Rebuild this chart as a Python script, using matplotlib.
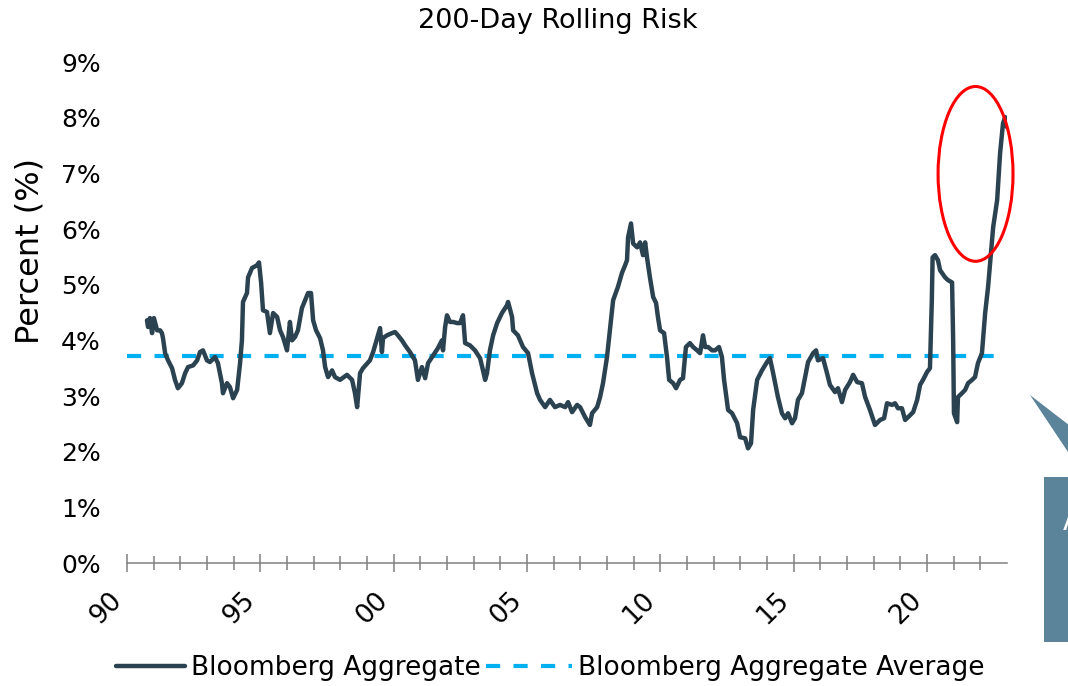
import matplotlib
matplotlib.use("Agg")
import matplotlib.pyplot as plt
from matplotlib.patches import Ellipse, Polygon, Rectangle
from matplotlib.ticker import FixedLocator

plt.rcParams["font.family"] = ["DejaVu Sans"]

# 200-day rolling risk of the Bloomberg Aggregate, percent (decimal years)
years = [
    1990.75, 1990.79, 1990.86, 1990.94, 1991.01, 1991.13, 1991.24, 1991.31, 1991.35, 1991.43,
    1991.54, 1991.69, 1991.80, 1991.91, 1992.06, 1992.18, 1992.29, 1992.48, 1992.63, 1992.74,
    1992.85, 1993.00, 1993.11, 1993.30, 1993.41, 1993.56, 1993.60, 1993.75, 1993.86, 1993.98,
    1994.13, 1994.24, 1994.31, 1994.35, 1994.50, 1994.54, 1994.69, 1994.88, 1994.95, 1995.03,
    1995.10, 1995.25, 1995.36, 1995.48, 1995.63, 1995.74, 1995.85, 1996.00, 1996.11, 1996.19,
    1996.30, 1996.41, 1996.56, 1996.68, 1996.79, 1996.90, 1996.98, 1997.09, 1997.24, 1997.35,
    1997.43, 1997.54, 1997.69, 1997.80,
    1997.99, 1998.25, 1998.44, 1998.55, 1998.63, 1998.74, 1998.85, 1999.11, 1999.23, 1999.38,
    1999.49, 1999.56, 1999.60, 1999.75, 1999.94, 2000.05, 2000.16, 2000.31, 2000.43, 2000.61,
    2000.80, 2000.91, 2001.06, 2001.18, 2001.29, 2001.48, 2001.66, 2001.81, 2001.85, 2001.93,
    2002.00, 2002.11, 2002.23, 2002.38, 2002.49, 2002.60, 2002.68, 2002.86, 2003.05, 2003.24,
    2003.35, 2003.43, 2003.50, 2003.61, 2003.73, 2003.88, 2004.06, 2004.25, 2004.29, 2004.44,
    2004.48, 2004.66, 2004.85, 2005.04, 2005.19, 2005.38,
    2005.49, 2005.68, 2005.86, 2006.05, 2006.24, 2006.43, 2006.54, 2006.69, 2006.88, 2006.99,
    2007.18, 2007.36, 2007.44, 2007.63, 2007.74, 2007.85, 2008.00, 2008.11, 2008.23, 2008.41,
    2008.56, 2008.68, 2008.75, 2008.79, 2008.90, 2008.98, 2009.13, 2009.24, 2009.35, 2009.43,
    2009.50, 2009.61, 2009.73, 2009.84, 2009.91, 2009.99, 2010.14, 2010.25, 2010.33, 2010.48,
    2010.59, 2010.74, 2010.85, 2010.96, 2011.11, 2011.23, 2011.38, 2011.49, 2011.60, 2011.68,
    2011.79, 2011.94, 2012.05, 2012.20, 2012.31, 2012.39, 2012.54, 2012.69, 2012.88,
    2012.99, 2013.18, 2013.29, 2013.40, 2013.48, 2013.63, 2013.81, 2014.00, 2014.11, 2014.23,
    2014.41, 2014.56, 2014.68, 2014.79, 2014.94, 2015.05, 2015.16, 2015.31, 2015.43, 2015.54,
    2015.73, 2015.84, 2015.91, 2016.10, 2016.25, 2016.36, 2016.55, 2016.66, 2016.81, 2016.93,
    2017.11, 2017.23, 2017.38, 2017.56, 2017.68, 2017.86, 2018.05, 2018.24, 2018.39, 2018.50,
    2018.69, 2018.80, 2018.91, 2019.06, 2019.18, 2019.29, 2019.48, 2019.63, 2019.74, 2019.85,
    2020.00, 2020.11,
    2020.18, 2020.21, 2020.30, 2020.41, 2020.49, 2020.68, 2020.79, 2020.94, 2020.98, 2021.01,
    2021.13, 2021.16, 2021.31, 2021.43, 2021.54, 2021.69, 2021.80, 2021.91, 2022.06, 2022.18,
    2022.29, 2022.40, 2022.48, 2022.63, 2022.66, 2022.74, 2022.85, 2022.93, 2023.00,
]
risk = [
    4.36, 4.24, 4.40, 4.13, 4.40, 4.18, 4.18, 4.13, 4.04, 3.77,
    3.64, 3.50, 3.29, 3.14, 3.23, 3.41, 3.52, 3.55, 3.64, 3.79,
    3.82, 3.64, 3.61, 3.70, 3.59, 3.23, 3.05, 3.23, 3.16, 2.96,
    3.11, 3.59, 4.00, 4.69, 4.85, 5.13, 5.30, 5.35, 5.40, 5.03,
    4.54, 4.51, 4.13, 4.49, 4.42, 4.18, 4.06, 3.82, 4.33, 4.00,
    4.06, 4.18, 4.58, 4.72, 4.85, 4.85, 4.36, 4.18, 4.04, 3.82,
    3.52, 3.34, 3.46, 3.34,
    3.29, 3.38, 3.29, 3.05, 2.80, 3.41, 3.50, 3.64, 3.79, 4.04,
    4.22, 3.79, 4.04, 4.09, 4.13, 4.15, 4.09, 4.00, 3.91, 3.79,
    3.64, 3.29, 3.52, 3.32, 3.59, 3.73, 3.86, 4.00, 3.82, 4.24,
    4.45, 4.33, 4.33, 4.31, 4.31, 4.45, 3.95, 3.91, 3.82, 3.68,
    3.46, 3.29, 3.41, 3.82, 4.09, 4.31, 4.49, 4.63, 4.69, 4.42,
    4.18, 4.09, 3.88, 3.77, 3.41, 3.05,
    2.93, 2.80, 2.93, 2.80, 2.84, 2.80, 2.89, 2.71, 2.84, 2.80,
    2.62, 2.48, 2.69, 2.80, 2.98, 3.23, 3.70, 4.18, 4.72, 4.96,
    5.21, 5.35, 5.44, 5.85, 6.10, 5.74, 5.67, 5.76, 5.53, 5.76,
    5.49, 5.13, 4.78, 4.67, 4.42, 4.18, 4.13, 3.70, 3.29, 3.23,
    3.14, 3.29, 3.32, 3.88, 3.95, 3.88, 3.82, 3.77, 4.09, 3.88,
    3.88, 3.82, 3.82, 3.88, 3.70, 3.29, 2.75, 2.69, 2.51,
    2.26, 2.24, 2.06, 2.15, 2.75, 3.29, 3.46, 3.61, 3.68, 3.41,
    2.98, 2.69, 2.60, 2.69, 2.51, 2.60, 2.93, 3.05, 3.34, 3.61,
    3.77, 3.82, 3.64, 3.68, 3.41, 3.20, 3.07, 3.14, 2.89, 3.11,
    3.25, 3.38, 3.25, 3.23, 2.98, 2.75, 2.48, 2.57, 2.60, 2.87,
    2.84, 2.87, 2.78, 2.78, 2.57, 2.62, 2.71, 2.93, 3.20, 3.29,
    3.43, 3.50,
    4.72, 5.49, 5.53, 5.44, 5.26, 5.13, 5.08, 5.04, 4.00, 2.69,
    2.53, 2.98, 3.05, 3.11, 3.23, 3.29, 3.34, 3.59, 3.77, 4.49,
    4.96, 5.57, 6.03, 6.52, 6.75, 7.36, 7.90, 8.01, 7.83,
]
average_risk = 3.72

x_range = [1990, 2023]
major_years = [1990, 1995, 2000, 2005, 2010, 2015, 2020]
major_labels = ["90", "95", "00", "05", "10", "15", "20"]
minor_years = [y for y in range(1991, 2023) if y % 5 != 0]
y_ticks = list(range(0, 10))
y_labels = [f"{v}%" for v in y_ticks]

line_color = "#2B4350"
avg_color = "#00B0F0"
callout_color = "#5B8399"

fig = plt.figure(figsize=(10.68, 6.86), dpi=100)
ax = fig.add_axes([0.1189, 0.1793, 0.8240, 0.7303])

risk_line, = ax.plot(years, risk, color=line_color, lw=3.2,
                     solid_joinstyle="round", solid_capstyle="round",
                     zorder=3)
avg_line, = ax.plot(x_range, [average_risk, average_risk], color=avg_color,
                    lw=3.0, dashes=(3.4, 3.2), dash_capstyle="butt",
                    zorder=2)

ax.set_xlim(*x_range)
ax.set_ylim(0, 9)

for side in ("top", "right", "left"):
    ax.spines[side].set_visible(False)
ax.spines["bottom"].set_color("#808080")
ax.spines["bottom"].set_linewidth(1.1)

ax.set_xticks(major_years)
ax.set_xticklabels(major_labels, rotation=45, ha="right", va="top",
                   fontsize=19)
ax.xaxis.set_minor_locator(FixedLocator(minor_years))
ax.tick_params(axis="x", which="major", direction="inout", length=13.5,
               width=1.1, color="#808080", pad=11)
ax.tick_params(axis="x", which="minor", direction="inout", length=10,
               width=1.1, color="#808080")

ax.set_yticks(y_ticks)
ax.set_yticklabels(y_labels, fontsize=18)
ax.tick_params(axis="y", length=0, pad=19)

ax.set_ylabel("Percent (%)", fontsize=23)
ax.yaxis.set_label_coords(-0.093, 0.623)

# highlight the recent spike
ax.add_patch(Ellipse((2021.82, 6.99), width=2.81, height=3.14, fill=False,
                     edgecolor="#FF0000", lw=2.2, clip_on=False, zorder=4))

fig.text(0.522, 0.969, "200-Day Rolling Risk", ha="center", va="center",
         fontsize=19.5)

# two legend entries, each with its own handle length
leg_kw = dict(loc="center left", frameon=False, fontsize=19,
              handletextpad=0.25, borderpad=0, borderaxespad=0)
leg1 = fig.legend([risk_line], ["Bloomberg Aggregate"],
                  bbox_to_anchor=(116 / 1068, 0.026), handlelength=2.6,
                  **leg_kw)
leg2 = fig.legend([avg_line], ["Bloomberg Aggregate Average"],
                  bbox_to_anchor=(486 / 1068, 0.026), handlelength=3.25,
                  **leg_kw)

# callout box running off the right edge
W, H = 1068.0, 686.0
tri = Polygon([(1030 / W, 1 - 395 / H), (1100 / W, 1 - 449 / H),
               (1100 / W, 1 - 500 / H)], closed=True,
              transform=fig.transFigure, facecolor=callout_color,
              edgecolor="none")
box = Rectangle((1044 / W, 1 - 642 / H), 100 / W, 165 / H,
                transform=fig.transFigure, facecolor=callout_color,
                edgecolor="none")
fig.patches.extend([tri, box])
fig.text(1063 / W, 1 - 530 / H, "A", color="white", fontsize=20,
         ha="left", va="baseline")

fig.savefig("out.png", dpi=100)
